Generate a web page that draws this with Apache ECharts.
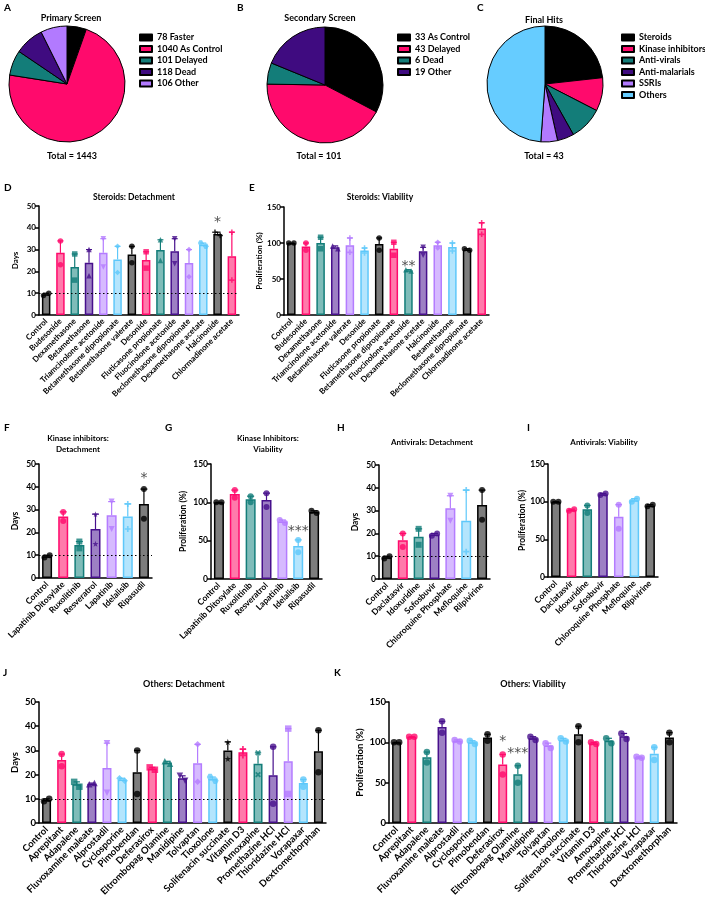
<!DOCTYPE html>
<html><head><meta charset="utf-8">
<script src="https://cdn.jsdelivr.net/npm/echarts@6/dist/echarts.min.js"></script>
<style>html,body{margin:0;padding:0;background:#fff}#c{width:705px;height:903px}</style>
</head><body><div id="c"></div>
<script>
// ================= DATA =================
// Pie A
const primaryNames = ['78 Faster','1040 As Control','101 Delayed','118 Dead','106 Other'];
const primaryValues = [78,1040,101,118,106];
// Pie B
const secondaryNames = ['33 As Control','43 Delayed','6 Dead','19 Other'];
const secondaryValues = [33,43,6,19];
// Pie C
const finalNames = ['Steroids','Kinase inhibitors','Anti-virals','Anti-malarials','SSRIs','Others'];
const finalValues = [10,4,4,2,2,21];

// D Steroids: Detachment (days)
const steroidDetCats = ['Control','Budesonide','Dexamethasone','Betamethasone','Triamcinolone acetonide','Betamethasone dipropionate','Betamethasone valerate','Desonide','Fluticasone propionate','Fluocinolone acetonide','Beclomethasone dipropionate','Dexamethasone acetate','Halcinonide','Chlormadinone acetate'];
const steroidDetMean = [9.5,28.5,22,24,28.5,25.5,27.7,25.2,29.8,29.2,23.8,32.2,37.2,27];
const steroidDetRep1 = [9,34,28,30,35,31.5,31.5,29,34.5,35,30,33,38,38];
const steroidDetRep2 = [10,23,16,18,22,19.5,24,21.5,25,23.5,17.5,31.5,36.5,16];
const steroidDetSig = [[12,'*',42.5]];

// E Steroids: Viability (%)
const steroidViaCats = ['Control','Budesonide','Dexamethasone','Triamcinolone acetonide','Betamethasone valerate','Desonide','Fluticasone propionate','Betamethasone dipropionate','Fluocinolone acetonide','Dexamethasone acetate','Halcinonide','Betamethasone','Beclomethasone dipropionate','Chlormadinone acetate'];
const steroidViaMean = [100,95,100,94,97,89.5,98.5,92,62,88.5,97,94.5,91,120];
const steroidViaRep1 = [100,100,108,96,107,93,107,101,63,94,101,100,92,128];
const steroidViaRep2 = [100,90,92,92,87,86,90,83,61,83,93,89,90,112];
const steroidViaSig = [[8,'**',68]];

// F Kinase inhibitors: Detachment
const kinaseDetCats = ['Control','Lapatinib Ditosylate','Ruxolitinib','Resveratrol','Lapatinib','Idelalisib','Ripasudil'];
const kinaseDetMean = [9.5,27,14.5,21.5,27.5,27,32.5];
const kinaseDetRep1 = [9,29,16,28,33.5,32.5,39];
const kinaseDetRep2 = [10,25,13,15,21.5,21.5,26];
const kinaseDetSig = [[6,'*',43.5]];

// G Kinase Inhibitors: Viability
const kinaseViaCats = ['Control','Lapatinib Ditosylate','Ruxolitinib','Resveratrol','Lapatinib','Idelalisib','Ripasudil'];
const kinaseViaMean = [100,111,104,103,75,43,87.5];
const kinaseViaRep1 = [100,116,108,112,77,51,89];
const kinaseViaRep2 = [100,106,100,94,73,35,86];
const kinaseViaSig = [[5,'***',62]];

// H Antivirals: Detachment
const antiviralDetCats = ['Control','Daclatasvir','Idoxuridine','Sofosbuvir','Chloroquine Phosphate','Mefloquine','Rilpivirine'];
const antiviralDetMean = [9.5,17,18.5,19.5,31,25.5,32.5];
const antiviralDetRep1 = [9,20,22,19,36.5,39,39];
const antiviralDetRep2 = [10,14,15,20,25.5,12,26];

// I Antivirals: Viability
const antiviralViaCats = ['Control','Daclatasvir','Idoxuridine','Sofosbuvir','Chloroquine Phosphate','Mefloquine','Rilpivirine'];
const antiviralViaMean = [100,89,90,110,80,102,95];
const antiviralViaRep1 = [100,88,95,109,96,100,94];
const antiviralViaRep2 = [100,90,85,111,64,104,96];

// J Others: Detachment
const othersDetCats = ['Control','Aprepitant','Adapalene','Fluvoxamine maleate','Alprostadil','Cyclosporine','Pimobendan','Deferasirox','Eltrombopag Olamine','Manidipine','Tolvaptan','Tioxolone','Solifenacin succinate','Vitamin D3','Amoxapine','Promethazine HCl','Thioridazine HCl','Vorapaxar','Dextromethorphan'];
const othersDetMean = [9.5,26,16,16.2,22.7,18,21,22.5,25,18.5,24.7,18.2,30,29.2,24.5,19.7,25.5,16.5,29.6];
const othersDetRep1 = [9,28.5,17,16,33,18.5,30,23,25.5,19.5,32.5,19,33.5,30.5,29,31.5,39,18,38.3];
const othersDetRep2 = [10,23.5,15,16.5,12.5,17.5,12,22,24.5,17.5,17,17.5,26.5,28,20,8,12,15,21];

// K Others: Viability
const othersViaCats = ['Control','Aprepitant','Adapalene','Fluvoxamine maleate','Alprostadil','Cyclosporine','Pimobendan','Deferasirox','Eltrombopag Olamine','Manidipine','Tolvaptan','Tioxolone','Solifenacin succinate','Vitamin D3','Amoxapine','Promethazine HCl','Thioridazine HCl','Vorapaxar','Dextromethorphan'];
const othersViaMean = [100,107,81.5,119,102,100,106,72.5,60.5,105,96,103,110,99,102,107.5,81.5,86,106];
const othersViaRep1 = [100,107,88,126,103,102,110,85,71,107,99,105,120,100,105,111,82,94,112];
const othersViaRep2 = [100,107,75,112,101,98,102,60,50,103,93,101,100,98,99,104,81,78,100];
const othersViaSig = [[7,'*',101],[8,'***',86]];

// ================= STYLE =================
const FONT = 'Lato';
const PIE_COLORS = ['#000000','#ff0a6c','#137d79','#3f0b80','#b27aff','#66ccff'];
const COLORS = {
  black:   {edge:'#000000', fill:'#7d7d7d'},
  pink:    {edge:'#ff0a6c', fill:'#ff7aab'},
  teal:    {edge:'#137d79', fill:'#7fbcb9'},
  purple:  {edge:'#47108c', fill:'#9d80c4'},
  lavender:{edge:'#b47cff', fill:'#d6baff'},
  blue:    {edge:'#5ec8fa', fill:'#b4e5fd'}
};
const CYCLE = ['pink','teal','purple','lavender','blue','black'];
function groupOf(i){ return i===0 ? 'black' : CYCLE[(i-1)%6]; }

const PLUS = 'path://M3.6,0h2.8v3.6h3.6v2.8h-3.6v3.6h-2.8v-3.6h-3.6v-2.8h3.6z';
const STAR = 'path://M5,0L6.2,3.6L10,3.6L6.9,5.9L8.1,9.5L5,7.3L1.9,9.5L3.1,5.9L0,3.6L3.8,3.6Z';
const HEX = 'path://M2.5,0H7.5L10,5L7.5,10H2.5L0,5Z';
const SYM = {
  circle:{s:'circle',r:0}, rect:{s:'rect',r:0}, triangle:{s:'triangle',r:0}, tridown:{s:'triangle',r:180},
  diamond:{s:'diamond',r:0}, plus:{s:PLUS,r:0}, cross:{s:PLUS,r:45}, star:{s:STAR,r:0}, hex:{s:HEX,r:0}
};
const SH_D = ['circle','circle','rect','triangle','tridown','diamond','circle','rect','triangle','tridown','diamond','hex','plus','plus'];
const SH_E = ['circle','circle','rect','triangle','plus','plus','circle','rect','triangle','tridown','diamond','plus','circle','plus'];
const SH_F = ['circle','circle','rect','star','tridown','plus','circle'];
const SH_H = ['circle','circle','rect','circle','tridown','plus','circle'];
const SH_J = ['circle','circle','rect','triangle','tridown','diamond','circle','rect','triangle','tridown','diamond','hex','star','plus','cross','circle','rect','circle','circle'];

const panels = [
  {cats:steroidDetCats, mean:steroidDetMean, r1:steroidDetRep1, r2:steroidDetRep2, sig:steroidDetSig,
   grid:{left:39,top:206,width:200,height:109}, max:50, interval:10, name:'Days', nameGap:20, fs:8, bw:8.5, ss:5.5, shapes:SH_D, dotted:true},
  {cats:steroidViaCats, mean:steroidViaMean, r1:steroidViaRep1, r2:steroidViaRep2, sig:steroidViaSig,
   grid:{left:284,top:207,width:205,height:108}, max:150, interval:50, name:'Proliferation (%)', nameGap:18, fs:8, bw:8.5, ss:5.5, shapes:SH_E},
  {cats:kinaseDetCats, mean:kinaseDetMean, r1:kinaseDetRep1, r2:kinaseDetRep2, sig:kinaseDetSig,
   grid:{left:39,top:464,width:113,height:114}, max:50, interval:10, name:'Days', nameGap:19, fs:8.5, bw:10, ss:6, shapes:SH_F, dotted:true},
  {cats:kinaseViaCats, mean:kinaseViaMean, r1:kinaseViaRep1, r2:kinaseViaRep2, sig:kinaseViaSig,
   grid:{left:211,top:464,width:111,height:115}, max:150, interval:50, name:'Proliferation (%)', nameGap:23, fs:8.5, bw:10, ss:6},
  {cats:antiviralDetCats, mean:antiviralDetMean, r1:antiviralDetRep1, r2:antiviralDetRep2, sig:[],
   grid:{left:379,top:465,width:111,height:114}, max:50, interval:10, name:'Days', nameGap:19, fs:8.5, bw:10, ss:6, shapes:SH_H, dotted:true},
  {cats:antiviralViaCats, mean:antiviralViaMean, r1:antiviralViaRep1, r2:antiviralViaRep2, sig:[],
   grid:{left:548,top:464,width:110,height:113}, max:150, interval:50, name:'Proliferation (%)', nameGap:21, fs:8.5, bw:9.5, ss:6},
  {cats:othersDetCats, mean:othersDetMean, r1:othersDetRep1, r2:othersDetRep2, sig:[],
   grid:{left:39,top:702,width:287,height:121}, max:50, interval:10, name:'Days', nameGap:19, fs:9.5, bw:9, ss:6.5, shapes:SH_J, dotted:true},
  {cats:othersViaCats, mean:othersViaMean, r1:othersViaRep1, r2:othersViaRep2, sig:othersViaSig,
   grid:{left:389,top:702,width:288,height:121}, max:150, interval:50, name:'Proliferation (%)', nameGap:24, fs:9.5, bw:9, ss:6.5}
];

// ================= BUILD =================
const grid=[], xAxis=[], yAxis=[], series=[];
panels.forEach((p, k) => {
  grid.push(Object.assign({containLabel:false}, p.grid));
  xAxis.push({
    type:'category', gridIndex:k, data:p.cats, boundaryGap:true,
    axisLine:{lineStyle:{color:'#000', width:1.5}},
    axisTick:{alignWithLabel:true, length:4, lineStyle:{color:'#000', width:1.5}},
    axisLabel:{interval:0, rotate:45, margin:5, color:'#000', fontSize:p.fs, fontWeight:'bold', fontFamily:FONT}
  });
  yAxis.push({
    type:'value', gridIndex:k, min:0, max:p.max, interval:p.interval,
    axisLine:{show:true, lineStyle:{color:'#000', width:1.5}},
    axisTick:{show:true, length:4, lineStyle:{color:'#000', width:1.5}},
    splitLine:{show:false},
    axisLabel:{margin:3, color:'#000', fontSize:p.fs, fontWeight:'bold', fontFamily:FONT},
    name:p.name, nameLocation:'middle', nameGap:p.nameGap,
    nameTextStyle:{color:'#000', fontSize:p.fs, fontWeight:'bold', fontFamily:FONT}
  });
  const barData = p.mean.map((v,i) => {
    const c = COLORS[groupOf(i)];
    return {value:v, itemStyle:{color:c.fill, borderColor:c.edge, borderWidth:1.5}};
  });
  const bar = {type:'bar', xAxisIndex:k, yAxisIndex:k, data:barData, barWidth:p.bw, silent:true, z:2};
  if (p.dotted) {
    bar.markLine = {silent:true, symbol:'none', label:{show:false},
      lineStyle:{color:'#000', type:[1.5,2.5], width:1}, data:[{yAxis:10}]};
  }
  series.push(bar);
  // error bars (mean -> mean + SEM)
  const errData = p.mean.map((v,i) => [i, v, Math.max(p.r1[i], p.r2[i])]);
  series.push({
    type:'custom', xAxisIndex:k, yAxisIndex:k, data:errData, silent:true, z:3,
    renderItem:(params, api) => {
      const i = api.value(0);
      const a = api.coord([i, api.value(1)]);
      const b = api.coord([i, api.value(2)]);
      const col = COLORS[groupOf(i)].edge;
      const hw = p.bw*0.35;
      return {type:'group', children:[
        {type:'line', shape:{x1:a[0],y1:a[1],x2:b[0],y2:b[1]}, style:{stroke:col, lineWidth:1.2}},
        {type:'line', shape:{x1:b[0]-hw,y1:b[1],x2:b[0]+hw,y2:b[1]}, style:{stroke:col, lineWidth:1.2}}
      ]};
    }
  });
  // replicate points
  const pxPerUnit = p.grid.height / p.max;
  const pts = [];
  p.cats.forEach((c,i) => {
    const g = groupOf(i);
    const col = COLORS[g].edge;
    const sh = SYM[(p.shapes ? p.shapes[i] : 'circle')];
    const close = Math.abs(p.r1[i]-p.r2[i])*pxPerUnit < p.ss*0.9;
    [p.r1[i], p.r2[i]].forEach((v,j) => {
      pts.push({value:[i, v], symbol:sh.s, symbolRotate:sh.r,
        symbolOffset: close ? [j===0 ? -2.6 : 2.6, 0] : [0,0],
        itemStyle:{color:col}});
    });
  });
  series.push({type:'scatter', xAxisIndex:k, yAxisIndex:k, data:pts, symbolSize:p.ss, silent:true, z:4});
  // significance marks
  if (p.sig && p.sig.length) {
    series.push({type:'scatter', xAxisIndex:k, yAxisIndex:k, symbolSize:1, silent:true, z:5,
      itemStyle:{color:'rgba(0,0,0,0)'},
      data:p.sig.map(s => ({value:[s[0], s[2]], label:{show:true, formatter:s[1], position:'inside',
        color:'#222', fontSize:14, fontFamily:'DejaVu Sans', fontWeight:'normal'}}))
    });
  }
});

// Pies
function pieSeries(names, values, center){
  return {type:'pie', center:center, radius:58, startAngle:90, clockwise:true, silent:true,
    label:{show:false}, labelLine:{show:false}, emphasis:{disabled:true},
    itemStyle:{borderColor:'#000', borderWidth:1},
    data:names.map((n,i)=>({name:n, value:values[i], itemStyle:{color:PIE_COLORS[i]}}))};
}
series.push(pieSeries(primaryNames, primaryValues, [67,84]));
series.push(pieSeries(secondaryNames, secondaryValues, [325,85]));
series.push(pieSeries(finalNames, finalValues, [545,84]));

const legendBase = {orient:'vertical', icon:'rect', itemWidth:12, itemHeight:6, itemGap:0.5, selectedMode:false,
  textStyle:{fontSize:9, fontWeight:'bold', fontFamily:FONT, color:'#000', lineHeight:11}};
const legend = [
  Object.assign({}, legendBase, {data:primaryNames, left:134, top:27}),
  Object.assign({}, legendBase, {data:secondaryNames, left:392, top:27}),
  Object.assign({}, legendBase, {data:finalNames, left:616, top:27})
];

function txt(x, y, text, size, align){
  return {type:'text', x:x, y:y, silent:true, style:{text:text, fill:'#000',
    font:'bold '+size+'px '+FONT, textAlign:align||'center', textVerticalAlign:'middle',
    align:align||'center', verticalAlign:'middle'}};
}
const graphic = [
  txt(4,8,'A',10,'left'), txt(237,8,'B',10,'left'), txt(477,8,'C',10,'left'),
  txt(71,18,'Primary Screen',9), txt(320,18,'Secondary Screen',9), txt(544,20,'Final Hits',9),
  txt(72,156,'Total = 1443',9), txt(319,156,'Total = 101',9), txt(544,156,'Total = 43',9),
  txt(4,188,'D',10,'left'), txt(249,188,'E',10,'left'),
  txt(134,197,'Steroids: Detachment',8.5), txt(380,197,'Steroids: Viability',8.5),
  txt(4,428,'F',10,'left'), txt(165,428,'G',10,'left'), txt(337,428,'H',10,'left'), txt(527,428,'I',10,'left'),
  txt(78,438,'Kinase inhibitors:',8), txt(78,449,'Detachment',8),
  txt(268,438,'Kinase Inhibitors:',8), txt(268,449,'Viability',8),
  txt(432,442,'Antivirals: Detachment',8), txt(604,442,'Antivirals: Viability',8),
  txt(3,673,'J',10,'left'), txt(334,673,'K',10,'left'),
  txt(184,684,'Others: Detachment',9), txt(533,684,'Others: Viability',9)
];

const chart = echarts.init(document.getElementById('c'), null, {renderer:'canvas'});
chart.setOption({animation:false, backgroundColor:'#fff', grid, xAxis, yAxis, series, legend, graphic});
</script>
</body></html>
